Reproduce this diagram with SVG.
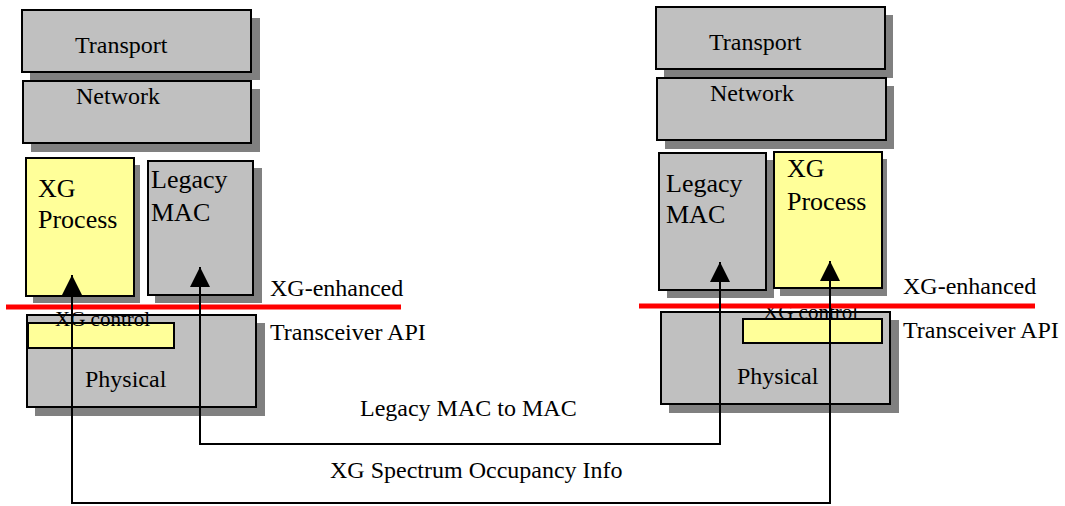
<svg xmlns="http://www.w3.org/2000/svg" width="1065" height="506" viewBox="0 0 1065 506">
<style>
.box{fill:#c0c0c0;stroke:#000;stroke-width:2}
.xg{fill:#ffff99;stroke:#000;stroke-width:2}
.sh{fill:#808080}
.t{font-family:"Liberation Serif",serif;fill:#000}
.t24{font-size:24px}
.t26{font-size:26px}
.t21{font-size:21px}
.red{stroke:#ff0000;stroke-width:5}
.con{fill:none;stroke:#000;stroke-width:2}
</style>
<defs>
<marker id="ah" viewBox="0 0 20 20" refX="20" refY="10" markerWidth="20" markerHeight="20" markerUnits="userSpaceOnUse" orient="auto">
<path d="M0,0 L20,10 L0,20 z" fill="#000"/>
</marker>
</defs>
<rect width="1065" height="506" fill="#fff"/>

<!-- Left stack -->
<g id="left-transport">
<rect class="sh" x="30" y="18" width="230" height="62"/>
<rect class="box" x="22" y="10" width="229" height="62"/>
<text class="t t24" x="75" y="53">Transport</text>
</g>
<g id="left-network">
<rect class="sh" x="31" y="89" width="229" height="63"/>
<rect class="box" x="23" y="81" width="228" height="62"/>
<text class="t t24" x="76" y="104">Network</text>
</g>
<g id="left-xgprocess">
<rect class="sh" x="33" y="165" width="107" height="138"/>
<rect class="xg" x="26" y="158" width="108" height="138"/>
<text class="t t26" x="38" y="197">XG</text>
<text class="t t26" x="38" y="228">Process</text>
</g>
<g id="left-legacymac">
<rect class="sh" x="155" y="168" width="107" height="135"/>
<rect class="box" x="148" y="161" width="105" height="134"/>
<text class="t t26" x="151" y="188">Legacy</text>
<text class="t t26" x="151" y="221">MAC</text>
</g>
<g id="left-physical">
<rect class="sh" x="35" y="323" width="230" height="93"/>
<rect class="box" x="27" y="315" width="229" height="92"/>
<rect class="xg" x="28" y="323" width="146" height="25"/>
<text class="t t21" x="55" y="326">XG control</text>
<text class="t t24" x="85" y="387">Physical</text>
</g>
<g id="left-labels">
<line class="red" x1="6" y1="307" x2="401" y2="307"/>
<text class="t t24" x="270" y="296">XG-enhanced</text>
<text class="t t24" x="270" y="340">Transceiver API</text>
</g>

<!-- Right stack -->
<g id="right-transport">
<rect class="sh" x="664" y="15" width="229" height="63"/>
<rect class="box" x="656" y="7" width="229" height="62"/>
<text class="t t24" x="709" y="50">Transport</text>
</g>
<g id="right-network">
<rect class="sh" x="665" y="86" width="229" height="63"/>
<rect class="box" x="657" y="78" width="229" height="62"/>
<text class="t t24" x="710" y="101">Network</text>
</g>
<g id="right-legacymac">
<rect class="sh" x="667" y="160" width="107" height="138"/>
<rect class="box" x="659" y="153" width="107" height="137"/>
<text class="t t26" x="666" y="192">Legacy</text>
<text class="t t26" x="666" y="223">MAC</text>
</g>
<g id="right-xgprocess">
<rect class="sh" x="780" y="159" width="107" height="137"/>
<rect class="xg" x="774" y="152" width="108" height="136"/>
<text class="t t26" x="787" y="177">XG</text>
<text class="t t26" x="787" y="210">Process</text>
</g>
<g id="right-physical">
<rect class="sh" x="669" y="320" width="230" height="93"/>
<rect class="box" x="661" y="312" width="229" height="92"/>
<rect class="xg" x="743" y="319" width="139" height="24"/>
<text class="t t21" x="763" y="319">XG control</text>
<text class="t t24" x="737" y="384">Physical</text>
</g>
<g id="right-labels">
<line class="red" x1="639" y1="306" x2="1035" y2="306"/>
<text class="t t24" x="903" y="294">XG-enhanced</text>
<text class="t t24" x="903" y="338">Transceiver API</text>
</g>

<!-- Connectors -->
<g id="connectors">
<path class="con" d="M200,444 L720,444"/>
<path class="con" d="M72,503 L830,503"/>
<path class="con" d="M72,504 L72,275" marker-end="url(#ah)"/>
<path class="con" d="M200,445 L200,267" marker-end="url(#ah)"/>
<path class="con" d="M720,445 L720,262" marker-end="url(#ah)"/>
<path class="con" d="M830,504 L830,261" marker-end="url(#ah)"/>
</g>
<g id="connector-labels">
<text class="t t24" x="360" y="416">Legacy MAC to MAC</text>
<text class="t t24" x="330" y="478">XG Spectrum Occupancy Info</text>
</g>
</svg>
